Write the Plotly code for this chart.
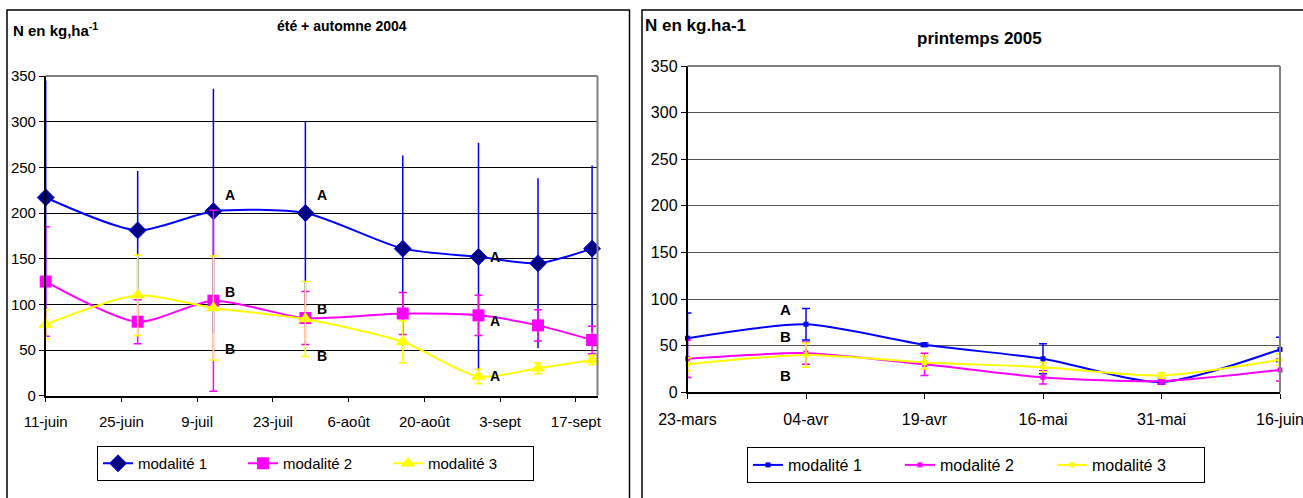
import plotly.graph_objects as go

# ---------------- data : left panel (été + automne 2004) ----------------
dates_2004 = ["2004-06-11", "2004-06-28", "2004-07-12", "2004-07-29",
              "2004-08-16", "2004-08-30", "2004-09-10", "2004-09-20"]
mod1_2004 = [217, 181, 202, 200, 161, 152, 145, 161]
mod1_2004_err = [128, 65, 134, 100, 102, 125, 93, 91]
mod2_2004 = [125, 81, 104, 85, 90, 88, 77, 61]
mod2_2004_err = [60, 24, 99, 29, 23, 22, 17, 15]
mod3_2004 = [78, 110, 96, 84, 59, 21, 30, 39]
mod3_2004_err = [16, 44, 57, 41, 23, 8, 6, 5]
ticks_2004 = ["2004-06-11", "2004-06-25", "2004-07-09", "2004-07-23",
              "2004-08-06", "2004-08-20", "2004-09-03", "2004-09-17"]
ticklabels_2004 = ["11-juin", "25-juin", "9-juil", "23-juil",
                   "6-août", "20-août", "3-sept", "17-sept"]

# ---------------- data : right panel (printemps 2005) ----------------
cats_2005 = ["23-mars", "04-avr", "19-avr", "16-mai", "31-mai", "16-juin"]
mod1_2005 = [58, 73, 51, 36, 11, 46]
mod1_2005_err = [27, 17, 2, 16, 2, 13]
mod2_2005 = [36, 42, 30, 16, 12, 24]
mod2_2005_err = [20, 12, 12, 7, 3, 12]
mod3_2005 = [30, 40, 32, 27, 18, 35]
mod3_2005_err = [7, 13, 7, 5, 3, 6]

series_names = ["modalité 1", "modalité 2", "modalité 3"]
colors = ["#0000FF", "#FF00FF", "#FFFF00"]

FONT = "Liberation Sans, Arial, sans-serif"
W, H = 1303, 498

fig = go.Figure()

# left panel traces
left_sets = [(mod1_2004, mod1_2004_err), (mod2_2004, mod2_2004_err), (mod3_2004, mod3_2004_err)]
left_markers = [dict(symbol="diamond", size=13, color="#000080", line=dict(color="#0000FF", width=1)),
                dict(symbol="square", size=12, color="#FF00FF"),
                dict(symbol="triangle-up", size=13, color="#FFFF00")]
cap_w = [0, 4, 4]
for i, (vals, errs) in enumerate(left_sets):
    fig.add_trace(go.Scatter(
        x=dates_2004, y=vals, name=series_names[i], mode="lines+markers",
        line=dict(color=colors[i], width=2, shape="spline", smoothing=0.7),
        marker=left_markers[i],
        error_y=dict(type="data", array=errs, visible=True, color=colors[i],
                     thickness=1.5, width=cap_w[i]),
        xaxis="x", yaxis="y", legend="legend", cliponaxis=False))

# right panel traces
right_sets = [(mod1_2005, mod1_2005_err), (mod2_2005, mod2_2005_err), (mod3_2005, mod3_2005_err)]
for i, (vals, errs) in enumerate(right_sets):
    fig.add_trace(go.Scatter(
        x=cats_2005, y=vals, name=series_names[i], mode="lines+markers",
        line=dict(color=colors[i], width=2, shape="spline", smoothing=0.7),
        marker=dict(symbol="square", size=5, color=colors[i]),
        error_y=dict(type="data", array=errs, visible=True, color=colors[i],
                     thickness=1.5, width=4),
        xaxis="x2", yaxis="y2", legend="legend2", cliponaxis=False))

def px_x(p):
    return p / W

def px_y(p):
    return 1 - p / H

def axis_common(size):
    return dict(showline=True, linecolor="black", linewidth=1.5, ticks="outside",
                ticklen=5, tickcolor="black", tickfont=dict(family=FONT, size=size, color="black"),
                zeroline=False, automargin=False)

fig.update_layout(
    width=W, height=H, margin=dict(l=0, r=0, t=0, b=0, autoexpand=False),
    paper_bgcolor="white", plot_bgcolor="white",
    font=dict(family=FONT, color="black"),
    xaxis=dict(domain=[px_x(45.7), px_x(597.5)], type="date",
               range=["2004-06-11", "2004-09-21"],
               tickvals=ticks_2004, ticktext=ticklabels_2004, showgrid=False,
               ticklabelstandoff=7, anchor="y", **axis_common(15)),
    yaxis=dict(domain=[px_y(395.7), px_y(76)], range=[0, 350], dtick=50,
               showgrid=True, gridcolor="black", gridwidth=1, anchor="x", **axis_common(15)),
    xaxis2=dict(domain=[px_x(687.5), px_x(1280)], type="category",
                range=[0, 5], showgrid=False, ticklabelstandoff=7, anchor="y2", **axis_common(16)),
    yaxis2=dict(domain=[px_y(392.3), px_y(66)], range=[0, 350], dtick=50,
                showgrid=True, gridcolor="#555555", gridwidth=1, anchor="x2", **axis_common(16)),
    legend=dict(orientation="h", x=px_x(315.5), y=px_y(463.5), xanchor="center", yanchor="middle",
                bordercolor="black", borderwidth=1, bgcolor="white",
                font=dict(family=FONT, size=15, color="black"), entrywidth=100),
    legend2=dict(orientation="h", x=px_x(976), y=px_y(465), xanchor="center", yanchor="middle",
                 bordercolor="black", borderwidth=1, bgcolor="white",
                 font=dict(family=FONT, size=16, color="black"), entrywidth=107),
    showlegend=True,
)

grey = dict(color="#808080", width=2)
shapes = [
    # panel boxes
    dict(type="rect", xref="paper", yref="paper", x0=px_x(7), x1=px_x(629.5), y0=-0.05, y1=px_y(10),
         line=dict(color="black", width=1.5), layer="below"),
    dict(type="rect", xref="paper", yref="paper", x0=px_x(642), x1=1.05, y0=-0.05, y1=px_y(10),
         line=dict(color="black", width=1.5), layer="below"),
    # plot-area borders (top and right)
    dict(type="line", xref="x domain", yref="y domain", x0=0, x1=1, y0=1, y1=1, line=grey, layer="above"),
    dict(type="line", xref="x domain", yref="y domain", x0=1, x1=1, y0=0, y1=1, line=grey, layer="above"),
    dict(type="line", xref="x2 domain", yref="y2 domain", x0=0, x1=1, y0=1, y1=1, line=grey, layer="above"),
    dict(type="line", xref="x2 domain", yref="y2 domain", x0=1, x1=1, y0=0, y1=1, line=grey, layer="above"),
]
fig.update_layout(shapes=shapes)

annotations = [
    dict(text="<b>N en kg,ha<sup>-1</sup></b>", xref="paper", yref="paper", x=px_x(11), y=px_y(30),
         xanchor="left", yanchor="middle", showarrow=False,
         font=dict(family=FONT, size=15, color="black")),
    dict(text="<b>été + automne 2004</b>", xref="paper", yref="paper", x=px_x(342), y=px_y(26),
         xanchor="center", yanchor="middle", showarrow=False,
         font=dict(family=FONT, size=14, color="black")),
    dict(text="<b>N en kg.ha-1</b>", xref="paper", yref="paper", x=px_x(643), y=px_y(26),
         xanchor="left", yanchor="middle", showarrow=False,
         font=dict(family=FONT, size=17, color="black")),
    dict(text="<b>printemps 2005</b>", xref="paper", yref="paper", x=px_x(979), y=px_y(38),
         xanchor="center", yanchor="middle", showarrow=False,
         font=dict(family=FONT, size=17, color="black")),
]
letters_left = [("A", "2004-07-15", 220), ("A", "2004-08-01", 220), ("A", "2004-09-02", 152),
                ("B", "2004-07-15", 113), ("B", "2004-07-15", 51), ("B", "2004-08-01", 95),
                ("B", "2004-08-01", 43), ("A", "2004-09-02", 82), ("A", "2004-09-02", 22)]
for t, xx, yy in letters_left:
    annotations.append(dict(text="<b>%s</b>" % t, x=xx, y=yy, xref="x", yref="y",
                            showarrow=False, font=dict(family=FONT, size=14, color="black")))
letters_right = [("A", 0.83, 89), ("B", 0.83, 60), ("B", 0.83, 18)]
for t, xx, yy in letters_right:
    annotations.append(dict(text="<b>%s</b>" % t, x=xx, y=yy, xref="x2", yref="y2",
                            showarrow=False, font=dict(family=FONT, size=15, color="black")))
fig.update_layout(annotations=annotations)

fig.write_html("out.html", config={"displayModeBar": False},
               post_script="document.body.style.margin='0';document.body.style.padding='0';")
